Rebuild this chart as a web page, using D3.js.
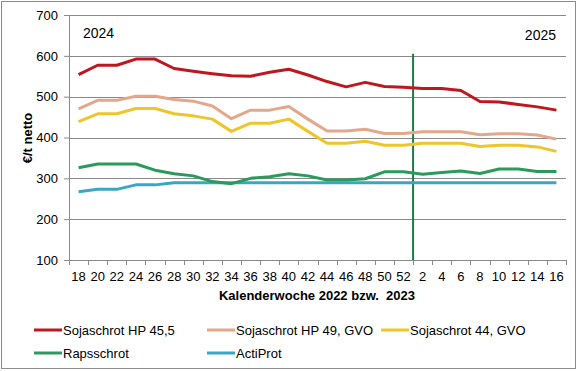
<!DOCTYPE html>
<html>
<head>
<meta charset="utf-8">
<script src="https://cdn.jsdelivr.net/npm/d3@7/dist/d3.min.js"></script>
<style>
  body { margin: 0; background: #fff; }
  svg text { font-family: "Liberation Sans", Arial, sans-serif; fill: #000; }
</style>
</head>
<body>
<div id="chart"></div>
<script>
// calendar weeks (2-week steps)
var weeks = ["18","20","22","24","26","28","30","32","34","36","38","40","42","44","46","48","50","52",
             "2","4","6","8","10","12","14","16"];

var sojaHP455 = [554,577,577,592,592,569,562,556,551,550,560,567,553,537,524,535,525,523,520,520,515,488,487,481,475,467];
var sojaHP49  = [470,491,491,501,501,493,489,477,446,467,467,476,445,416,416,420,410,410,414,414,414,407,409,409,406,396];
var soja44    = [439,458,458,471,471,458,453,445,415,435,435,445,415,386,386,391,381,381,386,386,386,378,381,381,377,366];
var raps      = [326,335,335,335,320,311,306,292,287,300,304,311,306,296,296,299,316,316,310,314,318,312,323,323,317,317];
var actiProt  = [267,273,273,284,284,289,289,289,289,289,289,289,289,289,289,289,289,289,289,289,289,289,289,289,289,289];

var yTicks = [100,200,300,400,500,600,700];

var series = [
    {name: "Sojaschrot HP 45,5",     values: sojaHP455, color: "#c0161f"},
    {name: "Sojaschrot HP 49, GVO",  values: sojaHP49,  color: "#e3a78c"},
    {name: "Sojaschrot 44, GVO",     values: soja44,    color: "#eec52a"},
    {name: "Rapsschrot",             values: raps,      color: "#2b9a5c"},
    {name: "ActiProt",               values: actiProt,  color: "#3aa6c6"}
];

var W = 580, H = 371;
var margin = {top: 15, right: 14, bottom: 111, left: 69},
    width = W - margin.left - margin.right,
    height = H - margin.top - margin.bottom;

var svg = d3.select("#chart").append("svg")
    .attr("width", W)
    .attr("height", H);

// outer frame
svg.append("rect")
    .attr("x", 1.5).attr("y", 1.5)
    .attr("width", 574).attr("height", 367)
    .attr("fill", "none")
    .attr("stroke", "#8c8c8c");

var g = svg.append("g")
    .attr("transform", "translate(" + margin.left + "," + margin.top + ")");

var x = d3.scaleBand().domain(weeks).range([0, width]).padding(0);
var y = d3.scaleLinear().domain([100, 700]).range([height, 0]);

// gridlines
g.selectAll(".grid").data(yTicks.slice(1)).enter().append("line")
    .attr("class", "grid")
    .attr("x1", 0).attr("x2", width)
    .attr("y1", function(d) { return Math.round(y(d)) + 0.5; })
    .attr("y2", function(d) { return Math.round(y(d)) + 0.5; })
    .attr("stroke", "#8a8a8a")
    .attr("stroke-width", 1);

// Y axis
var yAxis = g.append("g")
    .call(d3.axisLeft(y).tickValues(yTicks).tickSize(5).tickPadding(6));
yAxis.selectAll("text").style("font-size", "13px");
yAxis.selectAll("line, path").attr("stroke", "#8a8a8a");

// X axis, ticks between categories
var xAxis = g.append("g")
    .attr("transform", "translate(0," + height + ")")
    .call(d3.axisBottom(x).tickSize(0).tickPadding(12));
xAxis.selectAll("text").style("font-size", "13px");
xAxis.select("path").attr("stroke", "#8a8a8a");
g.append("g").selectAll("line").data(weeks.concat(["end"])).enter().append("line")
    .attr("x1", function(d, i) { return Math.round(i * x.step()) + 0.5; })
    .attr("x2", function(d, i) { return Math.round(i * x.step()) + 0.5; })
    .attr("y1", height).attr("y2", height + 5)
    .attr("stroke", "#8a8a8a");

// year change marker
var xYear = x("2");
g.append("line")
    .attr("x1", xYear).attr("x2", xYear)
    .attr("y1", y(605)).attr("y2", height)
    .attr("stroke", "#1f7a45")
    .attr("stroke-width", 2);

// lines
var line = d3.line()
    .x(function(d, i) { return x(weeks[i]) + x.bandwidth() / 2; })
    .y(function(d) { return y(d); });

series.slice().reverse().forEach(function(s) {
    g.append("path")
        .datum(s.values)
        .attr("fill", "none")
        .attr("stroke", s.color)
        .attr("stroke-width", 3)
        .attr("stroke-linejoin", "round")
        .attr("d", line);
});

// year labels
svg.append("text").attr("x", 83).attr("y", 38)
    .style("font-size", "14px").text("2024");
svg.append("text").attr("x", 556).attr("y", 40)
    .attr("text-anchor", "end")
    .style("font-size", "14px").text("2025");

// axis titles
svg.append("text")
    .attr("x", 317).attr("y", 300)
    .attr("text-anchor", "middle")
    .style("font-size", "13px").style("font-weight", "bold")
    .style("white-space", "pre")
    .text("Kalenderwoche 2022 bzw.  2023");

svg.append("text")
    .attr("transform", "translate(32,138) rotate(-90)")
    .attr("text-anchor", "middle")
    .style("font-size", "13px").style("font-weight", "bold")
    .text("€/t netto");

// legend
var legendPos = [[34, 330], [207, 330], [381, 330], [34, 353], [207, 353]];
series.forEach(function(s, i) {
    var p = legendPos[i];
    svg.append("line")
        .attr("x1", p[0]).attr("x2", p[0] + 28)
        .attr("y1", p[1]).attr("y2", p[1])
        .attr("stroke", s.color)
        .attr("stroke-width", 3);
    svg.append("text")
        .attr("x", p[0] + 29).attr("y", p[1] + 5)
        .style("font-size", "13px")
        .text(s.name);
});
</script>
</body>
</html>
